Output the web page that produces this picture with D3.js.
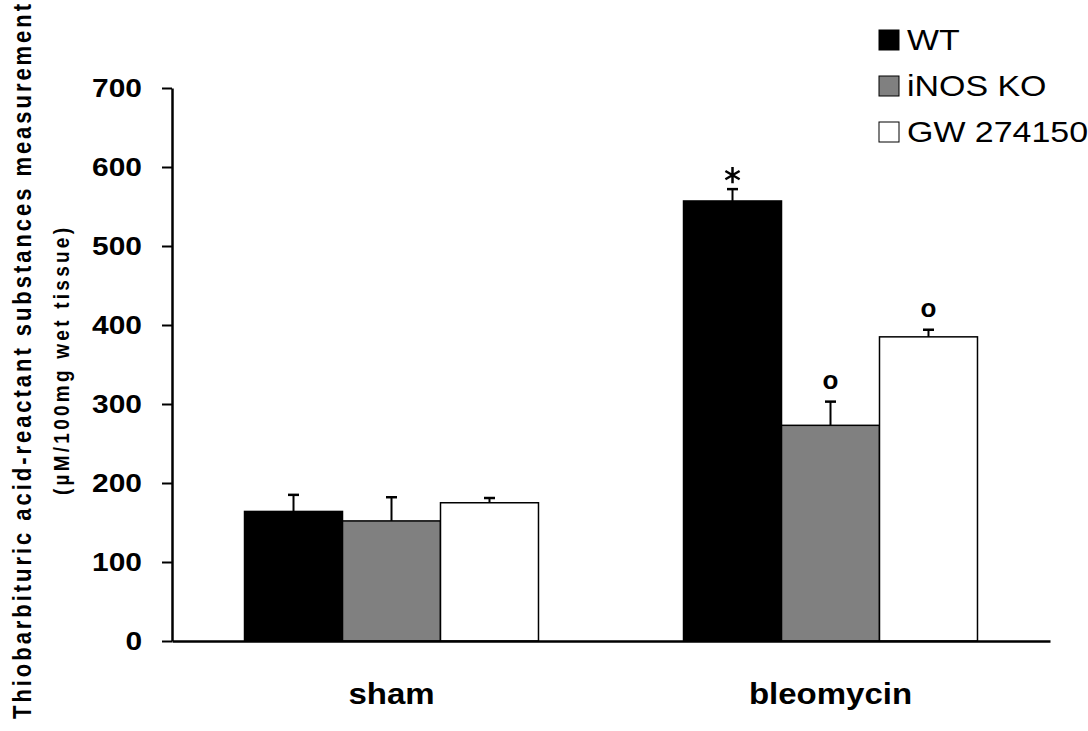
<!DOCTYPE html>
<html>
<head>
<meta charset="utf-8">
<script src="https://cdn.jsdelivr.net/npm/d3@7"></script>
<style>
  body { margin: 0; background: #fff; }
  text { font-family: Arial, "Liberation Sans", sans-serif; fill: #000; }
</style>
</head>
<body>
<div id="chart"></div>
<script>
// the data
var groups = ["sham", "bleomycin"]
var series = ["WT", "iNOS KO", "GW 274150"]
var seriesColors = ["#000000", "#808080", "#ffffff"]
var shamMeans = [164, 152, 175]
var shamSem = [21, 30, 6]
var bleoMeans = [557, 273, 385]
var bleoSem = [15, 30, 9]
var bleoMarks = ["*", "o", "o"]
var yTicks = [0, 100, 200, 300, 400, 500, 600, 700]

var rows = []
series.forEach(function(s, i) {
  rows.push({group: "sham", series: s, i: i, value: shamMeans[i], sem: shamSem[i], mark: ""})
  rows.push({group: "bleomycin", series: s, i: i, value: bleoMeans[i], sem: bleoSem[i], mark: bleoMarks[i]})
})

// stretch text a bit sideways, the source image is wider than tall
function stretch(sel, k) {
  sel.each(function() {
    var l = this.getComputedTextLength()
    d3.select(this).attr("textLength", l * k).attr("lengthAdjust", "spacingAndGlyphs")
  })
}

var svg = d3.select("#chart").append("svg")
    .attr("width", 1088)
    .attr("height", 731)

var y = d3.scaleLinear().domain([0, 700]).range([641, 88])
var x0 = d3.scaleBand().domain(groups).range([172, 1050])
var x1 = d3.scaleBand().domain(series)
    .range([0, x0.bandwidth()])
    .paddingInner(0)
    .paddingOuter(0.74)
var color = d3.scaleOrdinal().domain(series).range(seriesColors)

// bars
svg.selectAll(".bar")
    .data(rows)
  .enter().append("rect")
    .attr("class", "bar")
    .attr("x", d => x0(d.group) + x1(d.series))
    .attr("width", x1.bandwidth())
    .attr("y", d => y(d.value))
    .attr("height", d => y(0) - y(d.value))
    .attr("fill", d => color(d.series))
    .attr("stroke", "#000")
    .attr("stroke-width", 1.5)

// error bars (upper half only)
var err = svg.selectAll(".err")
    .data(rows)
  .enter().append("g")
    .attr("class", "err")
    .attr("transform", d => "translate(" + (x0(d.group) + x1(d.series) + x1.bandwidth() / 2) + ",0)")
err.append("line")
    .attr("y1", d => y(d.value))
    .attr("y2", d => y(d.value + d.sem))
    .attr("stroke", "#000")
    .attr("stroke-width", 2)
err.append("line")
    .attr("x1", -5.5).attr("x2", 5.5)
    .attr("y1", d => y(d.value + d.sem))
    .attr("y2", d => y(d.value + d.sem))
    .attr("stroke", "#000")
    .attr("stroke-width", 2.5)

// significance marks
var marked = rows.filter(d => d.mark)
svg.selectAll(".star")
    .data(marked.filter(d => d.mark == "*"))
  .enter().append("path")
    .attr("class", "star")
    .attr("d", d3.symbol().type(d3.symbolAsterisk).size(190))
    .attr("transform", d => "translate(" + (x0(d.group) + x1(d.series) + x1.bandwidth() / 2) + "," + (y(d.value + d.sem) - 14) + ")")
    .attr("fill", "none")
    .attr("stroke", "#000")
    .attr("stroke-width", 2.5)
svg.selectAll(".circ")
    .data(marked.filter(d => d.mark == "o"))
  .enter().append("text")
    .attr("class", "circ")
    .attr("x", d => x0(d.group) + x1(d.series) + x1.bandwidth() / 2)
    .attr("y", d => y(d.value + d.sem) - 13)
    .attr("text-anchor", "middle")
    .style("font-size", "26px")
    .style("font-weight", "bold")
    .text(d => d.mark)

// y axis
var yAxis = svg.append("g")
    .attr("transform", "translate(172,0)")
    .call(d3.axisLeft(y).tickValues(yTicks).tickSize(10).tickSizeOuter(0).tickPadding(20))
yAxis.select(".domain").attr("stroke-width", 2.5)
yAxis.selectAll(".tick line").attr("stroke-width", 2)
yAxis.selectAll("text")
    .style("font-size", "26px")
    .style("font-weight", "bold")
    .attr("font-family", null)
    .call(stretch, 1.15)

// x axis
var xAxis = svg.append("g")
    .attr("transform", "translate(0,641)")
    .call(d3.axisBottom(x0).tickSize(0).tickSizeOuter(0).tickPadding(42))
xAxis.select(".domain").attr("stroke-width", 2.5)
xAxis.selectAll("text")
    .style("font-size", "30px")
    .style("font-weight", "bold")
    .call(stretch, 1.1)
svg.selectAll(".domain").attr("stroke", "#000")
svg.selectAll(".tick line").attr("stroke", "#000")
svg.selectAll("g text").attr("font-family", null).attr("fill", "#000")

// y axis title, two lines
var titleY = (y(0) + y(700)) / 2 - 3
svg.append("text")
    .attr("transform", "translate(31," + titleY + ") scale(1.15,1) rotate(-90)")
    .attr("text-anchor", "middle")
    .attr("textLength", 715)
    .attr("lengthAdjust", "spacing")
    .style("font-size", "22px")
    .style("font-weight", "bold")
    .text("Thiobarbituric acid-reactant substances measurement")
svg.append("text")
    .attr("transform", "translate(69," + titleY + ") scale(1.15,1) rotate(-90)")
    .attr("text-anchor", "middle")
    .attr("textLength", 267)
    .attr("lengthAdjust", "spacing")
    .style("font-size", "19px")
    .style("font-weight", "bold")
    .text("(µM/100mg wet tissue)")

// legend
var legend = svg.selectAll(".legend")
    .data(series)
  .enter().append("g")
    .attr("class", "legend")
    .attr("transform", (d, i) => "translate(879," + (30 + i * 46) + ")")
legend.append("rect")
    .attr("width", 20)
    .attr("height", 20)
    .attr("fill", d => color(d))
    .attr("stroke", "#000")
    .attr("stroke-width", 1)
legend.append("text")
    .attr("x", 28)
    .attr("y", 20)
    .style("font-size", "29px")
    .text(d => d)
    .call(stretch, 1.17)
</script>
</body>
</html>
